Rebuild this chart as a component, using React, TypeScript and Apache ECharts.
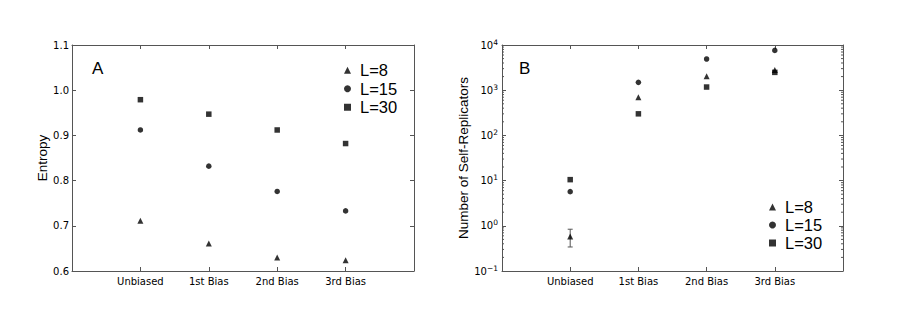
import React, { useEffect, useRef } from "react";
import * as echarts from "echarts";

const categories = ["Unbiased", "1st Bias", "2nd Bias", "3rd Bias"];
const seriesNames = ["L=8", "L=15", "L=30"];
const seriesSymbols = ["triangle", "circle", "rect"];

const entropyL8 = [0.711, 0.661, 0.63, 0.624];
const entropyL15 = [0.912, 0.832, 0.776, 0.733];
const entropyL30 = [0.979, 0.947, 0.912, 0.882];

const replicatorsL8 = [0.58, 695, 2030, 2800];
const replicatorsL15 = [5.7, 1490, 4900, 7600];
const replicatorsL30 = [10.5, 300, 1175, 2480];

// error bars: [category position, low, high]
const replicatorErrors = [[1, 0.34, 0.84]];

const entropyTicks = { min: 0.6, max: 1.1, interval: 0.1 };
const logTicks = { min: 0.1, max: 10000 };
const minorMultipliers = [2, 3, 4, 5, 6, 7, 8, 9];
const minorDecades = [0.1, 1, 10, 100, 1000];

const AXIS_COLOR = "#555";
const TICK_FONT = "DejaVu Sans";
const LABEL_FONT = "Liberation Sans";

function toPoints(values: number[]) {
  return values.map((v, i) => [i + 1, v]);
}

export default function App() {
  const ref = useRef<HTMLDivElement>(null);

  useEffect(() => {
    if (!ref.current) return;
    const chart = echarts.init(ref.current, null, { renderer: "svg" });

    const axisLine = { show: true, onZero: false, lineStyle: { color: AXIS_COLOR, width: 1 } };
    const axisTick = { show: true, inside: true, length: 4, lineStyle: { color: AXIS_COLOR } };

    const xBottom = (gridIndex: number) => ({
      gridIndex,
      type: "value",
      min: 0,
      max: 5,
      interval: 1,
      position: "bottom",
      axisLine,
      axisTick,
      splitLine: { show: false },
      axisLabel: {
        formatter: (v: number) => categories[Math.round(v) - 1] ?? "",
        fontSize: 10,
        fontFamily: TICK_FONT,
        color: "#000",
        margin: 5,
      },
    });
    const xTop = (gridIndex: number) => ({
      gridIndex,
      type: "value",
      min: 0,
      max: 5,
      interval: 1,
      position: "top",
      axisLine,
      axisTick,
      splitLine: { show: false },
      axisLabel: { show: false },
    });

    const minorData: number[][] = [];
    minorDecades.forEach((d) => minorMultipliers.forEach((m) => minorData.push([0, m * d])));

    const scatter = (name: string, symbol: string, values: number[], idx: number, size: number) => ({
      type: "scatter",
      name,
      symbol,
      symbolSize: size,
      xAxisIndex: idx,
      yAxisIndex: idx,
      itemStyle: { color: "#000" },
      data: toPoints(values),
      z: 5,
    });

    const legendBase = {
      data: seriesNames,
      orient: "vertical",
      padding: 0,
      itemGap: 0,
      itemWidth: 7,
      itemHeight: 7,
    };

    const option: any = {
      animation: false,
      backgroundColor: "#fff",
      grid: [
        { left: 72, right: 486, top: 45, bottom: 52 },
        { left: 502, right: 57, top: 45, bottom: 52 },
      ],
      legend: [
        {
          ...legendBase,
          left: 344,
          top: 61,
          textStyle: {
            fontSize: 16.5,
            fontFamily: LABEL_FONT,
            color: "#000",
            lineHeight: 18.5,
            padding: [0, 0, 0, 4],
          },
        },
        {
          ...legendBase,
          left: 769,
          top: 198,
          textStyle: {
            fontSize: 16.5,
            fontFamily: LABEL_FONT,
            color: "#000",
            lineHeight: 18,
            padding: [0, 0, 0, 4],
          },
        },
      ],
      xAxis: [xBottom(0), xTop(0), xBottom(1), xTop(1)],
      yAxis: [
        {
          gridIndex: 0,
          type: "value",
          min: entropyTicks.min,
          max: entropyTicks.max,
          interval: entropyTicks.interval,
          position: "left",
          axisLine,
          axisTick,
          splitLine: { show: false },
          axisLabel: {
            formatter: (v: number) => v.toFixed(1),
            fontSize: 10,
            fontFamily: TICK_FONT,
            color: "#000",
            margin: 3,
          },
          name: "Entropy",
          nameLocation: "middle",
          nameGap: 18,
          nameTextStyle: { fontSize: 13.5, fontFamily: LABEL_FONT, color: "#000" },
        },
        {
          gridIndex: 0,
          type: "value",
          min: entropyTicks.min,
          max: entropyTicks.max,
          interval: entropyTicks.interval,
          position: "right",
          axisLine,
          axisTick,
          splitLine: { show: false },
          axisLabel: { show: false },
        },
        {
          gridIndex: 1,
          type: "log",
          logBase: 10,
          min: logTicks.min,
          max: logTicks.max,
          position: "left",
          axisLine,
          axisTick,
          splitLine: { show: false },
          axisLabel: {
            formatter: (v: number) => {
              const e = Math.round(Math.log10(v));
              return "10{s|" + (e < 0 ? "\u2212" + -e : String(e)) + "}";
            },
            fontSize: 10,
            fontFamily: TICK_FONT,
            color: "#000",
            margin: 4,
            lineHeight: 14,
            rich: {
              s: { fontSize: 7.5, fontFamily: TICK_FONT, color: "#000", verticalAlign: "top", lineHeight: 14 },
            },
          },
          name: "Number of Self-Replicators",
          nameLocation: "middle",
          nameGap: 25.5,
          nameTextStyle: { fontSize: 13.5, fontFamily: LABEL_FONT, color: "#000" },
        },
        {
          gridIndex: 1,
          type: "log",
          logBase: 10,
          min: logTicks.min,
          max: logTicks.max,
          position: "right",
          axisLine,
          axisTick,
          splitLine: { show: false },
          axisLabel: { show: false },
        },
      ],
      graphic: [
        {
          type: "text",
          left: 92,
          top: 60,
          style: { text: "A", fontSize: 17, fontFamily: LABEL_FONT, fill: "#000" },
        },
        {
          type: "text",
          left: 519,
          top: 60,
          style: { text: "B", fontSize: 17, fontFamily: LABEL_FONT, fill: "#000" },
        },
      ],
      series: [
        scatter(seriesNames[0], seriesSymbols[0], entropyL8, 0, 6),
        scatter(seriesNames[1], seriesSymbols[1], entropyL15, 0, 5.5),
        scatter(seriesNames[2], seriesSymbols[2], entropyL30, 0, 5.5),
        scatter(seriesNames[0], seriesSymbols[0], replicatorsL8, 2, 6),
        scatter(seriesNames[1], seriesSymbols[1], replicatorsL15, 2, 5.5),
        scatter(seriesNames[2], seriesSymbols[2], replicatorsL30, 2, 5.5),
        {
          type: "custom",
          name: "minorTicks",
          xAxisIndex: 2,
          yAxisIndex: 2,
          silent: true,
          encode: { x: 0, y: 1 },
          data: minorData,
          renderItem: (_p: any, api: any) => {
            const v = api.value(1);
            const l = api.coord([0, v]);
            const r = api.coord([5, v]);
            return {
              type: "group",
              children: [
                { type: "line", shape: { x1: l[0], y1: l[1], x2: l[0] + 2, y2: l[1] }, style: { stroke: AXIS_COLOR, lineWidth: 1 } },
                { type: "line", shape: { x1: r[0] - 2, y1: r[1], x2: r[0], y2: r[1] }, style: { stroke: AXIS_COLOR, lineWidth: 1 } },
              ],
            };
          },
          z: 1,
        },
        {
          type: "custom",
          name: "errorBars",
          xAxisIndex: 2,
          yAxisIndex: 2,
          silent: true,
          encode: { x: 0, y: [1, 2] },
          data: replicatorErrors,
          renderItem: (_p: any, api: any) => {
            const x = api.value(0);
            const lo = api.coord([x, api.value(1)]);
            const hi = api.coord([x, api.value(2)]);
            const style = { stroke: AXIS_COLOR, lineWidth: 1 };
            return {
              type: "group",
              children: [
                { type: "line", shape: { x1: lo[0], y1: lo[1], x2: hi[0], y2: hi[1] }, style },
                { type: "line", shape: { x1: lo[0] - 2.5, y1: lo[1], x2: lo[0] + 2.5, y2: lo[1] }, style },
                { type: "line", shape: { x1: hi[0] - 2.5, y1: hi[1], x2: hi[0] + 2.5, y2: hi[1] }, style },
              ],
            };
          },
          z: 2,
        },
      ],
    };

    chart.setOption(option);
    return () => chart.dispose();
  }, []);

  return (
    <div
      ref={ref}
      style={{ position: "fixed", left: 0, top: 0, width: 900, height: 323, background: "#fff" }}
    />
  );
}
